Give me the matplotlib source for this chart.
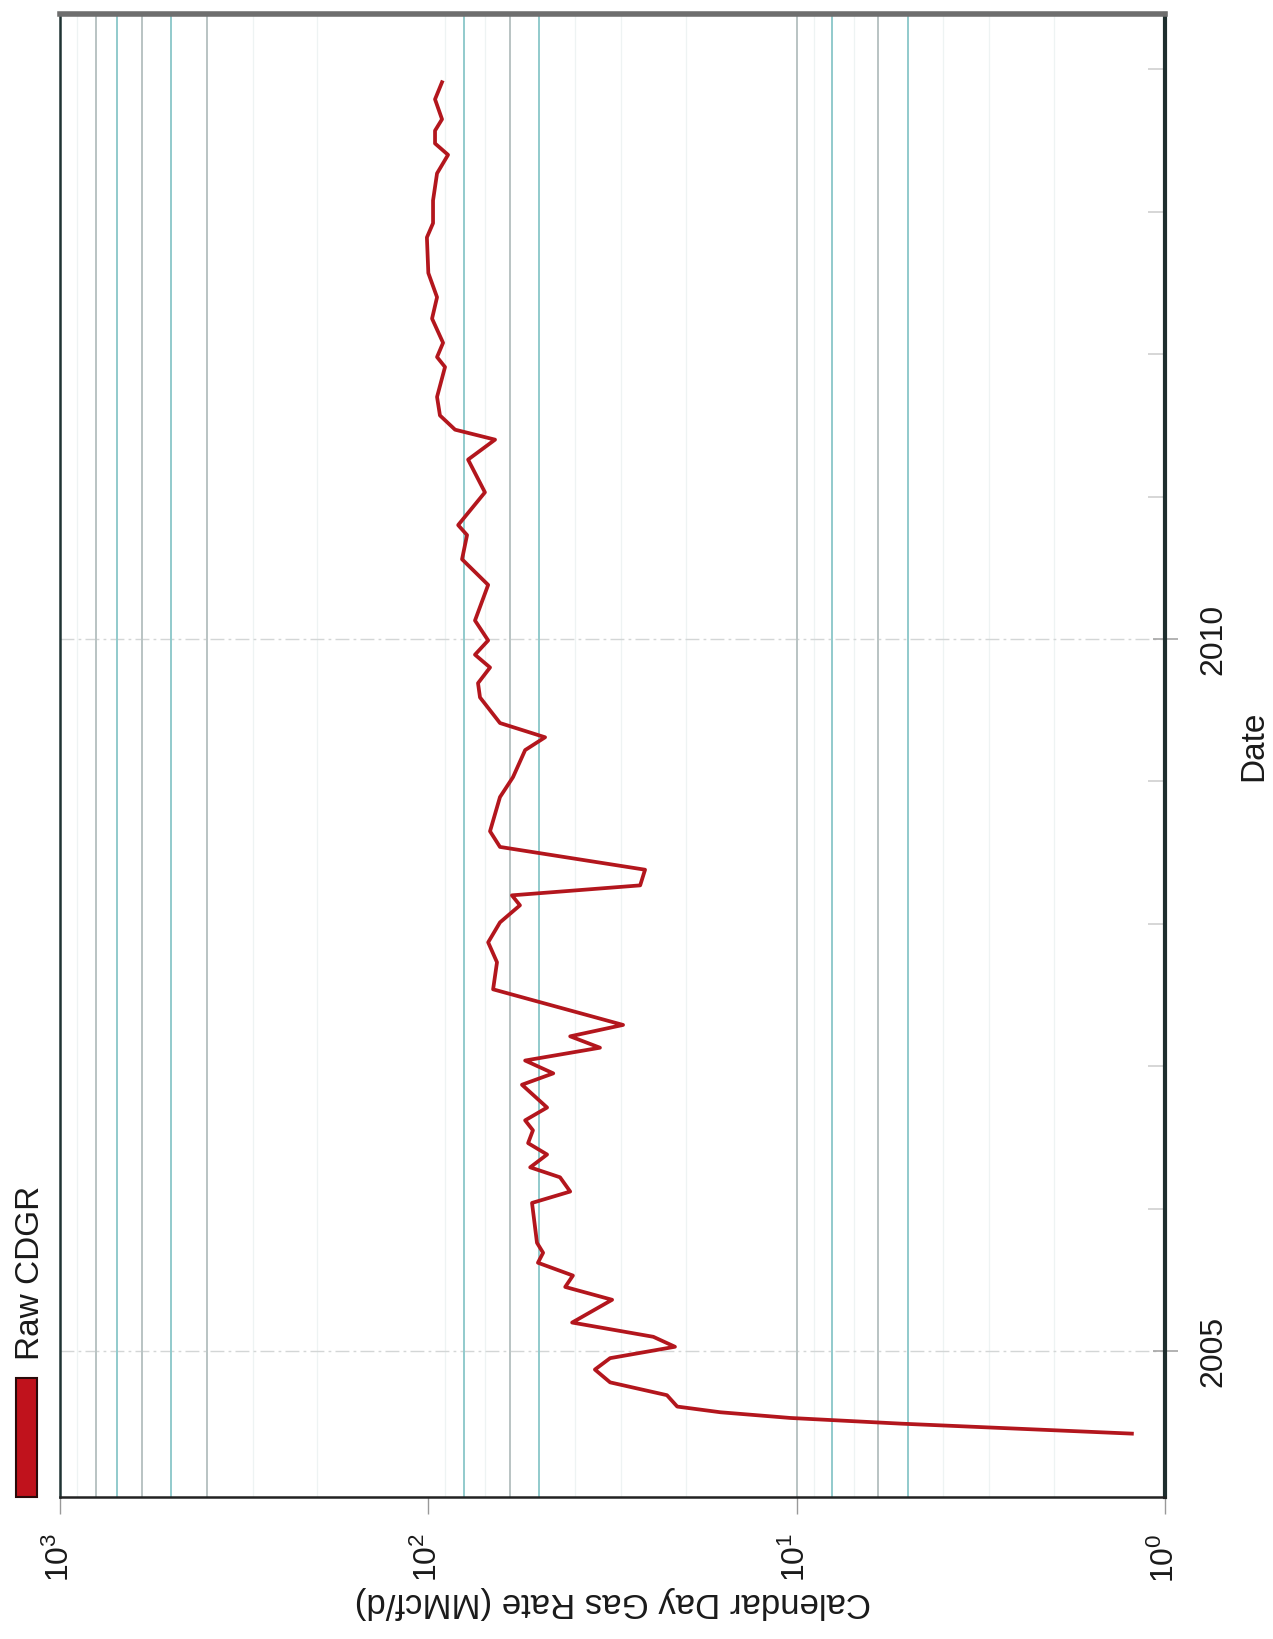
import matplotlib
matplotlib.use('Agg')
import matplotlib.pyplot as plt
from matplotlib.patches import Rectangle
from matplotlib.ticker import FixedLocator, LogFormatterMathtext, NullLocator

plt.rcParams['font.family'] = ['Liberation Sans', 'DejaVu Sans']
plt.rcParams['mathtext.fontset'] = 'custom'
plt.rcParams['mathtext.rm'] = 'Liberation Sans'
plt.rcParams['mathtext.it'] = 'Liberation Sans:italic'

# ---- data (decimal year, MMcf/d) ----
dates = [2004.42, 2004.49, 2004.53, 2004.57, 2004.61, 2004.69, 2004.78, 2004.87, 2004.95, 2005.03,
         2005.10, 2005.20, 2005.36, 2005.45, 2005.53, 2005.62, 2005.69, 2005.76, 2006.04, 2006.12,
         2006.22, 2006.29, 2006.38, 2006.46, 2006.55, 2006.62, 2006.71, 2006.87, 2006.95, 2007.04,
         2007.13, 2007.21, 2007.29, 2007.54, 2007.73, 2007.87, 2008.01, 2008.13, 2008.20, 2008.27,
         2008.38, 2008.54, 2008.65, 2008.89, 2009.03, 2009.22, 2009.31, 2009.41, 2009.59, 2009.69,
         2009.80, 2009.89, 2009.99, 2010.13, 2010.38, 2010.56, 2010.73, 2010.80, 2011.03, 2011.26,
         2011.40, 2011.47, 2011.57, 2011.70, 2011.91, 2011.98, 2012.08, 2012.25, 2012.40, 2012.57,
         2012.82, 2012.92, 2013.08, 2013.27, 2013.40, 2013.48, 2013.57, 2013.65, 2013.79, 2013.91]
rates = [1.23, 5.2, 10.4, 16.1, 21.1, 22.5, 32.1, 35.3, 32.1, 21.4,
         24.5, 40.7, 31.7, 42.5, 40.5, 50.4, 48.8, 50.7, 52.3, 41.2,
         43.9, 52.9, 47.6, 53.6, 52.0, 54.6, 47.6, 55.7, 45.8, 54.6,
         34.2, 41.2, 29.6, 66.7, 65.1, 68.8, 63.9, 56.4, 59.3, 26.6,
         25.8, 63.9, 68.0, 63.9, 58.9, 54.6, 48.2, 63.9, 72.4, 73.3,
         68.0, 74.7, 68.8, 74.7, 68.8, 81.0, 78.5, 83.0, 70.2, 78.0,
         65.9, 84.6, 93.0, 94.7, 90.1, 94.7, 91.2, 97.7, 94.7, 100.0,
         100.9, 97.1, 97.1, 94.7, 88.4, 95.9, 95.9, 91.8, 95.9, 91.8]
series_name = 'Raw CDGR'
rate_ticks = [1, 10, 100, 1000]
date_ticks = [2005, 2010]
date_minor = [2006, 2007, 2008, 2009, 2011, 2012, 2013, 2014]
grid_rates = [5, 6, 8, 10, 50, 60, 80, 400, 500, 600, 700, 800]
x_label = 'Calendar Day Gas Rate (MMcf/d)'
y_label = 'Date'

W, H = 1273, 1639
fig = plt.figure(figsize=(W / 100, H / 100), dpi=100)
L, R, T, B = 60, 1165, 14, 1497
ax = fig.add_axes([L / W, 1 - B / H, (R - L) / W, (B - T) / H])
ax.set_xscale('log')
ax.set_xlim(1000, 1)
ax.set_ylim(2003.975, 2014.389)

# faint minor grid
for dec in [1, 10, 100]:
    for m in range(2, 10):
        v = m * dec
        if v not in grid_rates:
            ax.axvline(v, color='#eef3f3', lw=0.9, zorder=1)
# visible grid lines
for i, v in enumerate(grid_rates):
    ax.axvline(v, color=['#92cacc', '#b9c3c3'][i % 2], lw=1.4, zorder=2)
for d in date_ticks:
    ax.axhline(d, color='#d3d6d6', lw=1.0, ls=(0, (10, 3, 2, 3)), zorder=1)

ax.plot(rates, dates, color='#b3161d', lw=2.7, solid_joinstyle='round', zorder=5)

# x (rate) axis at bottom
ax.xaxis.set_major_locator(FixedLocator(rate_ticks))
ax.xaxis.set_major_formatter(LogFormatterMathtext())
ax.xaxis.set_minor_locator(NullLocator())
ax.tick_params(axis='x', which='major', direction='out', length=12, width=1.0,
               color='#999999', labelsize=23, labelcolor='#1a1a1a', pad=14,
               labelrotation=90)
for lab in ax.get_xticklabels():
    lab.set_va('top')
    lab.set_ha('center')
ax.set_xlabel(x_label, fontsize=25, color='#1a1a1a', rotation=180, va='center', ha='center')
ax.xaxis.set_label_coords(0.5, -(1602 - B) / (B - T))

# y (date) axis on the right
ax.yaxis.tick_right()
ax.yaxis.set_label_position('right')
ax.yaxis.set_major_locator(FixedLocator(date_ticks))
ax.yaxis.set_minor_locator(FixedLocator(date_minor))
ax.set_yticklabels([str(d) for d in date_ticks])
ax.tick_params(axis='y', which='major', direction='inout', length=18, width=1.2,
               color='#a5a5a5', labelsize=23, labelcolor='#1a1a1a', pad=15,
               labelrotation=90, left=False, right=True)
ax.tick_params(axis='y', which='minor', direction='in', length=12, width=1.2,
               color='#cfcfcf', left=False, right=True)
for lab in ax.get_yticklabels():
    lab.set_va('center')
    lab.set_ha('left')
ax.set_ylabel(y_label, fontsize=24, color='#1a1a1a', rotation=90, va='center', ha='center')
ax.yaxis.set_label_coords((1254 - L) / (R - L), (B - 746) / (B - T))

# spines
ax.spines['left'].set_color('#1f3333')
ax.spines['left'].set_linewidth(1.8)
ax.spines['bottom'].set_color('#222222')
ax.spines['bottom'].set_linewidth(1.8)
ax.spines['right'].set_color('#1e2e2e')
ax.spines['right'].set_linewidth(3.0)
ax.spines['top'].set_color('#6e6e6e')
ax.spines['top'].set_linewidth(4.0)

# legend (rotated, outside left of plot)
fig.patches.append(Rectangle((16 / W, 1 - 1497 / H), 21 / W, 119 / H,
                             transform=fig.transFigure, facecolor='#c0121c',
                             edgecolor='#2a0a0a', lw=1.5, zorder=3))
fig.text(31 / W, 1 - 1360 / H, series_name, rotation=90, ha='center', va='bottom',
         fontsize=24, color='#1a1a1a')

fig.savefig('out.png', dpi=100, facecolor='white')
